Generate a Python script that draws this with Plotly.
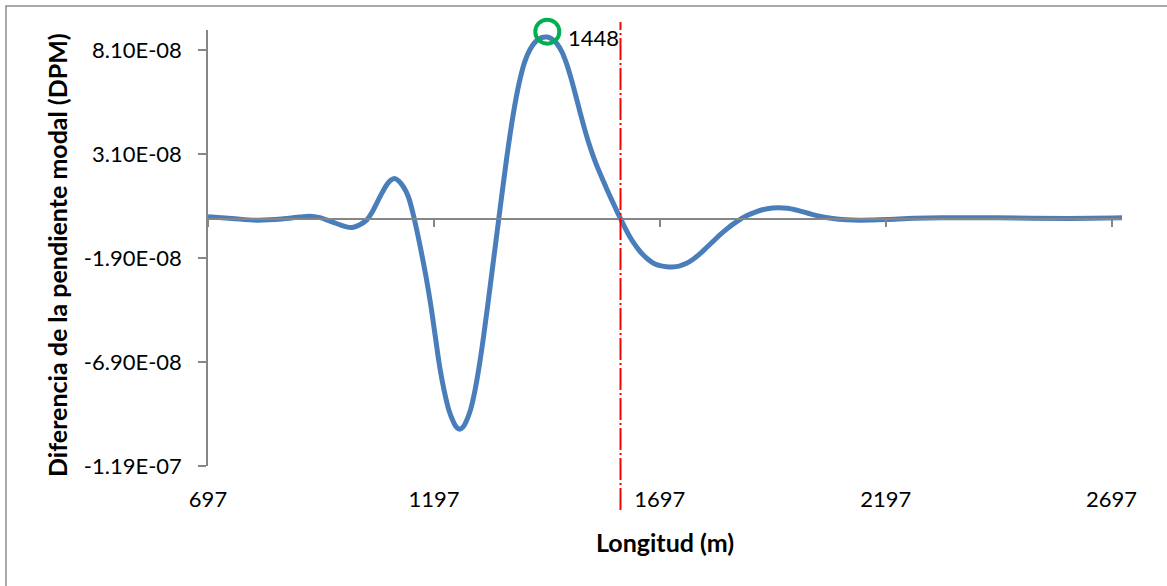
import plotly.graph_objects as go

# ---- data ----
longitud = [697, 750, 804, 860, 900, 922, 945, 960, 980, 1000, 1016, 1032, 1048, 1060,
            1070, 1080, 1092, 1100, 1110, 1120, 1130, 1140, 1150, 1160, 1170, 1180, 1190,
            1200, 1210, 1220, 1230, 1240, 1247, 1254, 1261, 1268, 1278, 1288, 1298, 1308,
            1318, 1328, 1338, 1348, 1358, 1368, 1378, 1388, 1398, 1410, 1422, 1435, 1448,
            1460, 1470, 1480, 1490, 1500, 1510, 1520, 1530, 1540, 1550, 1560, 1570, 1580,
            1590, 1600, 1610, 1620, 1630, 1640, 1650, 1660, 1670, 1680, 1690, 1700, 1712,
            1725, 1740, 1755, 1770, 1785, 1800, 1815, 1830, 1845, 1860, 1875, 1890, 1910,
            1935, 1958, 1980, 2000, 2025, 2050, 2080, 2110, 2140, 2170, 2200, 2260, 2320,
            2440, 2600, 2720]
dpm_e9 = [0.9, 0.1, -0.7, -0.2, 0.8, 1.2, 0.5, -0.6, -2.2, -3.7, -4.2, -3.0, -0.7, 3.0,
          7.3, 11.5, 16.1, 18.3, 19.3, 18.0, 15.2, 10.8, 3.2, -6.4, -17.0, -28.5, -41.5,
          -56.5, -71.5, -83.0, -92.0, -97.7, -100.4, -101.3, -100.4, -97.8, -92.0, -82.5,
          -70.0, -55.0, -38.5, -21.5, -4.5, 12.5, 29.0, 44.0, 57.0, 67.5, 75.5, 81.5, 85.2,
          87.1, 87.4, 86.2, 84.0, 80.4, 75.0, 68.0, 60.0, 51.6, 43.6, 36.3, 29.9, 24.2,
          19.1, 14.1, 9.3, 4.6, 0.0, -4.4, -8.4, -11.9, -14.9, -17.4, -19.4, -21.0, -22.1,
          -22.7, -23.1, -23.2, -22.8, -21.6, -19.6, -17.0, -14.0, -10.9, -7.8, -5.0, -2.5,
          -0.3, 1.5, 3.3, 4.8, 5.3, 5.0, 4.1, 2.6, 1.2, 0.1, -0.5, -0.7, -0.6, -0.4, 0.2,
          0.5, 0.4, 0.1, 0.4]
dpm = [v * 1e-9 for v in dpm_e9]

peak_x = [1448]
peak_y = [9.0e-8]
peak_label = ["1448"]
peak_label_y = [8.73e-8]

ref_line_x = 1610

x_tickvals = [697, 1197, 1697, 2197, 2697]
x_ticktext = ["697", "1197", "1697", "2197", "2697"]
y_tickvals = [-1.19e-7, -6.9e-8, -1.9e-8, 3.1e-8, 8.1e-8]
y_ticktext = ["-1.19E-07", "-6.90E-08", "-1.90E-08", "3.10E-08", "8.10E-08"]

x_range = [697, 2720]
y_range = [-1.19e-7, 9.08e-8]

x_title = "Longitud (m)"
y_title = "Diferencia de la pendiente modal (DPM)"

# ---- layout constants ----
W, H = 1167, 586
ML, MR, MT, MB = 208, 45, 30, 120
PW, PH = W - ML - MR, H - MT - MB


def px_x(p):
    return (p - ML) / PW


def px_y(p):
    return (H - MB - p) / PH


FONT = "Lato, Calibri, Arial, sans-serif"
AXIS_GRAY = "#868686"

fig = go.Figure()

fig.add_trace(go.Scatter(
    x=longitud, y=dpm, mode="lines",
    line=dict(color="#4A7EBB", width=5, shape="spline", smoothing=1.0),
    hoverinfo="skip", showlegend=False,
))

# invisible trace to carry the zero-crossing axis
fig.add_trace(go.Scatter(
    x=longitud, y=dpm, mode="lines", xaxis="x2",
    line=dict(width=0), opacity=0, hoverinfo="skip", showlegend=False,
))

fig.add_trace(go.Scatter(
    x=peak_x, y=peak_y, mode="markers", cliponaxis=False,
    marker=dict(symbol="circle-open", size=24, color="#00B050",
                line=dict(color="#00B050", width=4)),
    hoverinfo="skip", showlegend=False,
))

zero_pos = (0 - y_range[0]) / (y_range[1] - y_range[0])

fig.update_layout(
    width=W, height=H,
    margin=dict(l=ML, r=MR, t=MT, b=MB),
    paper_bgcolor="white", plot_bgcolor="white",
    font=dict(family=FONT, size=22, color="black"),
    xaxis=dict(
        range=x_range, tickvals=x_tickvals, ticktext=x_ticktext,
        showline=False, showgrid=False, zeroline=False, ticks="",
        ticklabelstandoff=18, tickfont=dict(size=22),
    ),
    xaxis2=dict(
        overlaying="x", matches="x", anchor="free", position=zero_pos,
        range=x_range, tickvals=x_tickvals, showticklabels=False,
        showline=True, linecolor=AXIS_GRAY, linewidth=1.5,
        ticks="outside", ticklen=8, tickwidth=1.5, tickcolor=AXIS_GRAY,
        showgrid=False, zeroline=False,
    ),
    yaxis=dict(
        range=y_range, tickvals=y_tickvals, ticktext=y_ticktext,
        showline=True, linecolor=AXIS_GRAY, linewidth=1.5,
        ticks="outside", ticklen=8, tickwidth=1.5, tickcolor=AXIS_GRAY,
        showgrid=False, zeroline=False,
        ticklabelstandoff=12, tickfont=dict(size=22),
    ),
    annotations=[
        dict(text="<b>" + y_title + "</b>", xref="paper", yref="paper",
             x=px_x(57), y=px_y(255), textangle=-90, showarrow=False,
             xanchor="center", yanchor="middle", font=dict(size=25)),
        dict(text="<b>" + x_title + "</b>", xref="paper", yref="paper",
             x=0.5, y=px_y(542), showarrow=False,
             xanchor="center", yanchor="middle", font=dict(size=25)),
        dict(text=peak_label[0], x=peak_x[0], y=peak_label_y[0], xref="x", yref="y",
             showarrow=False, xanchor="left", yanchor="middle", xshift=19,
             font=dict(size=22)),
    ],
    shapes=[
        dict(type="line", xref="x", yref="paper", x0=ref_line_x, x1=ref_line_x,
             y0=px_y(510), y1=px_y(22),
             line=dict(color="#FF0000", width=2, dash="22px,3px,2px,3px")),
        dict(type="rect", xref="paper", yref="paper",
             x0=px_x(6), x1=px_x(W + 20), y0=px_y(H + 20), y1=px_y(6),
             line=dict(color="#8C8C8C", width=1.5), layer="below"),
    ],
)

fig.write_html("out.html", config={"displayModeBar": False},
               post_script="document.body.style.margin='0px';")
